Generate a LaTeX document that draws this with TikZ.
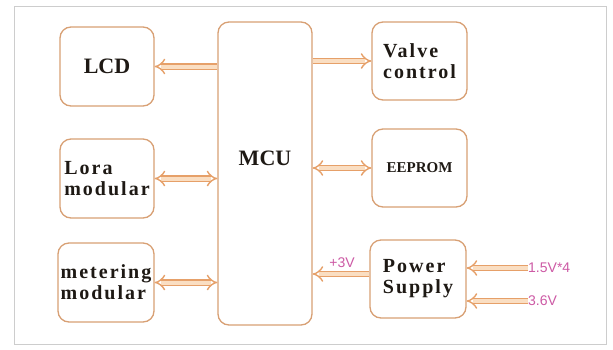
\documentclass[tikz,border=0pt]{standalone}
\usepackage{fontspec}
\setmainfont{Liberation Serif}
\newfontfamily\boxfont{Liberation Serif}[LetterSpace=10]
\newfontfamily\labfont{Liberation Sans}
\usetikzlibrary{arrows.meta}
\definecolor{boxline}{RGB}{216,160,116}
\definecolor{arrline}{RGB}{230,160,105}
\definecolor{arrfill}{RGB}{250,222,194}
\definecolor{framec}{RGB}{205,205,205}
\definecolor{pinkc}{RGB}{205,90,165}
\definecolor{txtc}{RGB}{30,25,20}
\begin{document}
\begin{tikzpicture}[x=1pt,y=-1pt,
  blk/.style={draw=boxline, line width=1.3pt, rounded corners=11pt, fill=white, inner sep=0pt, text=txtc},
  bigtxt/.style={font=\bfseries\fontsize{22}{24}\selectfont, text=txtc},
  btxt/.style={font=\boxfont\bfseries\fontsize{20}{21}\selectfont, align=left},
  conn/.style={draw=arrline, line width=1.4pt, double=arrfill, double distance=4pt},
  lab/.style={font=\labfont\fontsize{14}{16}\selectfont, text=pinkc, inner sep=0pt}
]
\useasboundingbox (0,0) rectangle (613,349);
\fill[white] (0,0) rectangle (613,349);
\draw[framec, line width=1pt] (14,6) rectangle (606,344);

\node[blk, minimum width=94pt, minimum height=79pt, bigtxt] (lcd) at (107,66.5) {LCD};
\node[blk, minimum width=94pt, minimum height=79pt, btxt] (lora) at (107,178.5) {Lora\\modular};
\node[blk, minimum width=96pt, minimum height=79pt, btxt] (meter) at (106,282.5) {metering\\modular};
\node[blk, minimum width=94pt, minimum height=303pt] (mcu) at (265,173.5) {};
\node[bigtxt] (mcut) at ([yshift=15pt]mcu.center) {MCU};
\node[blk, minimum width=95pt, minimum height=78pt, btxt] (valve) at (419.5,61) {Valve\\control};
\node[blk, minimum width=95pt, minimum height=78pt, font=\bfseries\fontsize{15}{17}\selectfont] (eeprom) at (419.5,168) {EEPROM};
\node[blk, minimum width=96pt, minimum height=78pt, btxt] (power) at (418,279) {Power\\Supply};
\coordinate (pw) at ([yshift=5pt]power.west);

\draw[conn, -{Implies}] (mcu.west |- lcd.east) -- (lcd.east);
\draw[conn, {Implies}-{Implies}] (lora.east) -- (mcu.west |- lora.east);
\draw[conn, {Implies}-{Implies}] (meter.east) -- (mcu.west |- meter.east);
\draw[conn, -{Implies}] (mcu.east |- valve.west) -- (valve.west);
\draw[conn, {Implies}-{Implies}] (mcu.east |- eeprom.west) -- (eeprom.west);
\draw[conn, -{Implies}] (pw) -- (mcu.east |- pw);

\node[lab, anchor=south] (v3) at (342,268) {+3V};
\node[lab, anchor=west] (in1) at (528,268) {1.5V*4};
\node[lab, anchor=west] (in2) at (528,301) {3.6V};
\draw[conn, -{Implies}] (in1.west) -- (power.east |- in1.west);
\draw[conn, -{Implies}] (in2.west) -- (power.east |- in2.west);
\end{tikzpicture}
\end{document}
